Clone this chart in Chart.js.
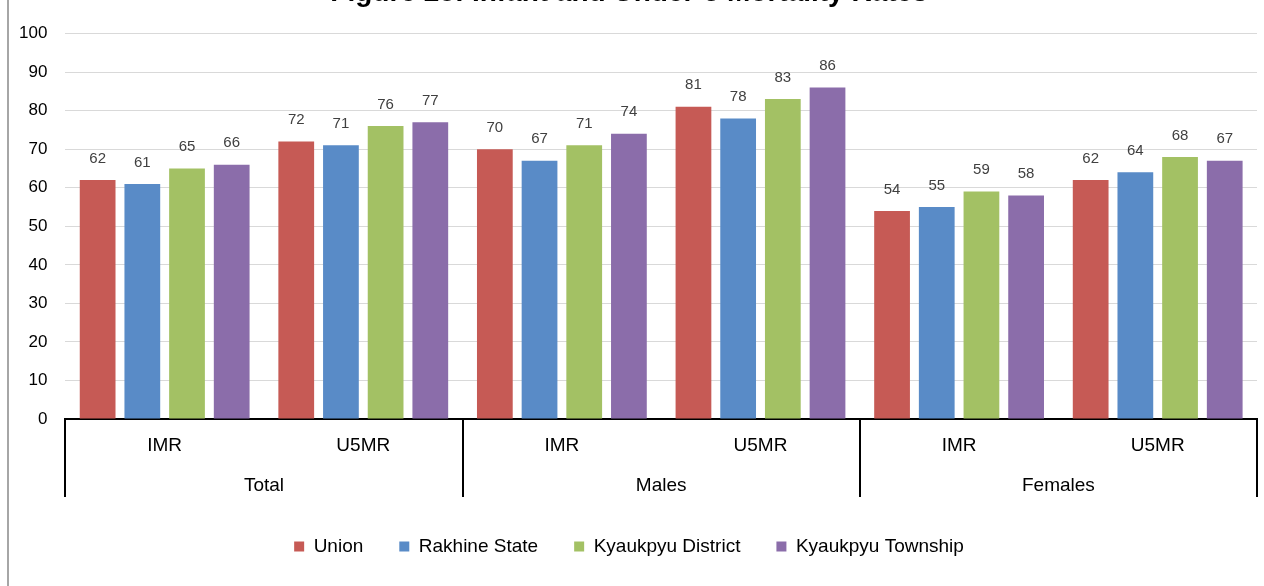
<!DOCTYPE html>
<html>
<head>
<meta charset="utf-8">
<script src="https://cdn.jsdelivr.net/npm/chart.js@4"></script>
<style>
  html, body { margin: 0; padding: 0; background: #fff; overflow: hidden; }
  #frame { position: absolute; left: 0; top: 0; width: 1264px; height: 586px; overflow: hidden; }
  #edge { position: absolute; left: 7px; top: 0; width: 2px; height: 586px; background: #a6a6a6; }
  #box { position: absolute; left: 0; top: -24px; width: 1264px; height: 610px; }
</style>
</head>
<body>
<div id="frame">
  <div id="box"><canvas id="chart"></canvas></div>
  <div id="edge"></div>
</div>
<script>
const title = 'Figure 28: Infant and Under-5 Mortality Rates';
const rates = ['IMR', 'U5MR', 'IMR', 'U5MR', 'IMR', 'U5MR'];
const groups = ['Total', 'Males', 'Females'];
const yTicks = [0, 10, 20, 30, 40, 50, 60, 70, 80, 90, 100];

const union = [62, 72, 70, 81, 54, 62];
const rakhine = [61, 71, 67, 78, 55, 64];
const district = [65, 76, 71, 83, 59, 68];
const township = [66, 77, 74, 86, 58, 67];

const font = "'Liberation Sans', Arial, sans-serif";

// values printed above each bar
const valueLabels = {
    id: 'valueLabels',
    afterDatasetsDraw(chart) {
        const {ctx} = chart;
        ctx.save();
        ctx.font = '15px ' + font;
        ctx.fillStyle = '#404040';
        ctx.textAlign = 'center';
        ctx.textBaseline = 'bottom';
        chart.data.datasets.forEach((ds, i) => {
            chart.getDatasetMeta(i).data.forEach((bar, j) => {
                ctx.fillText(ds.data[j], bar.x, bar.y - 14);
            });
        });
        ctx.restore();
    }
};

// vertical separators of the two-level category axis
const groupLines = {
    id: 'groupLines',
    afterDraw(chart) {
        const x = chart.scales.x;
        const x2 = chart.scales.x2;
        const {ctx} = chart;
        const step = (x.right - x.left) / rates.length;
        ctx.save();
        ctx.strokeStyle = '#000';
        ctx.lineWidth = 2;
        for (let k = 0; k <= rates.length; k += 2) {
            const px = Math.round(x.left + k * step);
            ctx.beginPath();
            ctx.moveTo(px, chart.chartArea.bottom);
            ctx.lineTo(px, x2.top + 38);
            ctx.stroke();
        }
        ctx.restore();
    }
};

new Chart(document.getElementById('chart'), {
    type: 'bar',
    data: {
        labels: rates,
        datasets: [
            {label: 'Union', data: union, backgroundColor: '#C65A55'},
            {label: 'Rakhine State', data: rakhine, backgroundColor: '#598BC7'},
            {label: 'Kyaukpyu District', data: district, backgroundColor: '#A3C164'},
            {label: 'Kyaukpyu Township', data: township, backgroundColor: '#8B6DAA'}
        ]
    },
    options: {
        responsive: true,
        maintainAspectRatio: false,
        animation: false,
        categoryPercentage: 0.9,
        barPercentage: 0.8,
        layout: {padding: {left: 1, right: 7, top: 0, bottom: 20}},
        plugins: {
            title: {
                display: true,
                text: title,
                color: '#000',
                font: {family: font, size: 28, weight: 'bold'},
                padding: {top: 0, bottom: 24}
            },
            legend: {
                position: 'bottom',
                labels: {
                    color: '#000',
                    font: {family: font, size: 19},
                    boxWidth: 10,
                    boxHeight: 10,
                    padding: 36
                }
            },
            tooltip: {enabled: false}
        },
        scales: {
            y: {
                min: 0,
                max: 100,
                afterBuildTicks: scale => { scale.ticks = yTicks.map(v => ({value: v})); },
                grid: {color: '#d9d9d9', lineWidth: 1, drawTicks: false},
                border: {display: false},
                ticks: {color: '#000', font: {family: font, size: 17}, padding: 18}
            },
            x: {
                grid: {display: false, drawTicks: false},
                border: {display: true, color: '#000', width: 2},
                ticks: {color: '#000', font: {family: font, size: 19}, padding: 15, maxRotation: 0},
                afterFit: scale => { scale.height = 40; }
            },
            x2: {
                type: 'category',
                labels: groups,
                position: 'bottom',
                grid: {display: false, drawTicks: false},
                border: {display: false},
                ticks: {color: '#000', font: {family: font, size: 19}, padding: 15, maxRotation: 0},
                afterFit: scale => { scale.height = 42; }
            }
        }
    },
    plugins: [valueLabels, groupLines]
});
</script>
</body>
</html>
